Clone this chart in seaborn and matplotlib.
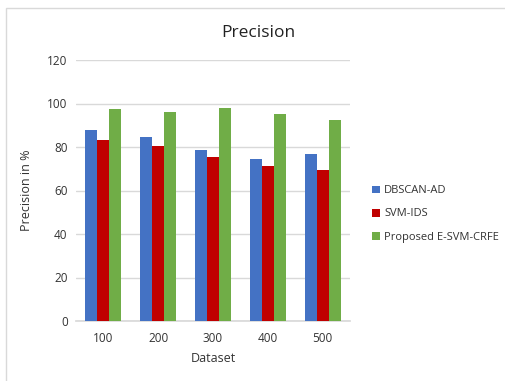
import matplotlib
matplotlib.use("Agg")
import matplotlib.pyplot as plt
import seaborn as sns
import pandas as pd
from matplotlib.patches import Rectangle

datasets = ["100", "200", "300", "400", "500"]
series_names = ["DBSCAN-AD", "SVM-IDS", "Proposed E-SVM-CRFE"]
dbscan_ad = [88, 84.5, 78.6, 74.3, 76.6]
svm_ids = [83.2, 80.6, 75.5, 71.4, 69.6]
e_svm_crfe = [97.5, 96, 98, 95.3, 92.4]
y_ticks = [0, 20, 40, 60, 80, 100, 120]
colors = ["#4472C4", "#C00000", "#70AD47"]

df = pd.DataFrame({
    "Dataset": datasets * 3,
    "Series": [s for s in series_names for _ in datasets],
    "Value": dbscan_ad + svm_ids + e_svm_crfe,
})

sns.set_theme(style="white")
plt.rcParams["font.family"] = ["Open Sans", "DejaVu Sans"]

fig = plt.figure(figsize=(5.05, 3.81), dpi=100)
W, H = 505, 381
ax = fig.add_axes([76 / W, 1 - 321 / H, (350 - 76) / W, (321 - 60) / H])

# Outer chart frame
fig.patches.append(Rectangle((6 / W, -0.1), 1.2, 1 - 8 / H + 0.1,
                             transform=fig.transFigure, fill=False,
                             edgecolor="#d9d9d9", linewidth=1.0))

sns.barplot(data=df, x="Dataset", y="Value", hue="Series", order=datasets,
            hue_order=series_names, palette=colors, width=0.66,
            saturation=1, linewidth=0, ax=ax, zorder=3)

ax.set_ylim(0, 120)
ax.set_yticks(y_ticks)
ax.yaxis.grid(True, color="#d9d9d9", linewidth=1.0, zorder=0)
ax.set_axisbelow(True)
for side in ["top", "right", "left"]:
    ax.spines[side].set_visible(False)
ax.spines["bottom"].set_color("#d9d9d9")
ax.tick_params(axis="both", length=0, labelsize=8.5, colors="#333333", pad=6)
ax.tick_params(axis="x", pad=8)

ax.set_xlabel("Dataset", fontsize=9, color="#333333", labelpad=5)
ax.set_ylabel("Precision in %", fontsize=9, color="#333333", labelpad=10)
fig.text(258 / W, 1 - 33 / H, "Precision", ha="center", va="center",
         fontsize=12.5, color="#222222")

leg = ax.legend(loc="center left", bbox_to_anchor=(362 / W, 1 - 214 / H),
                bbox_transform=fig.transFigure, frameon=False, fontsize=8,
                handlelength=0.7, handleheight=0.7, handletextpad=0.4,
                labelspacing=1.1)
for t in leg.get_texts():
    t.set_color("#333333")

fig.savefig("out.png", dpi=100)
